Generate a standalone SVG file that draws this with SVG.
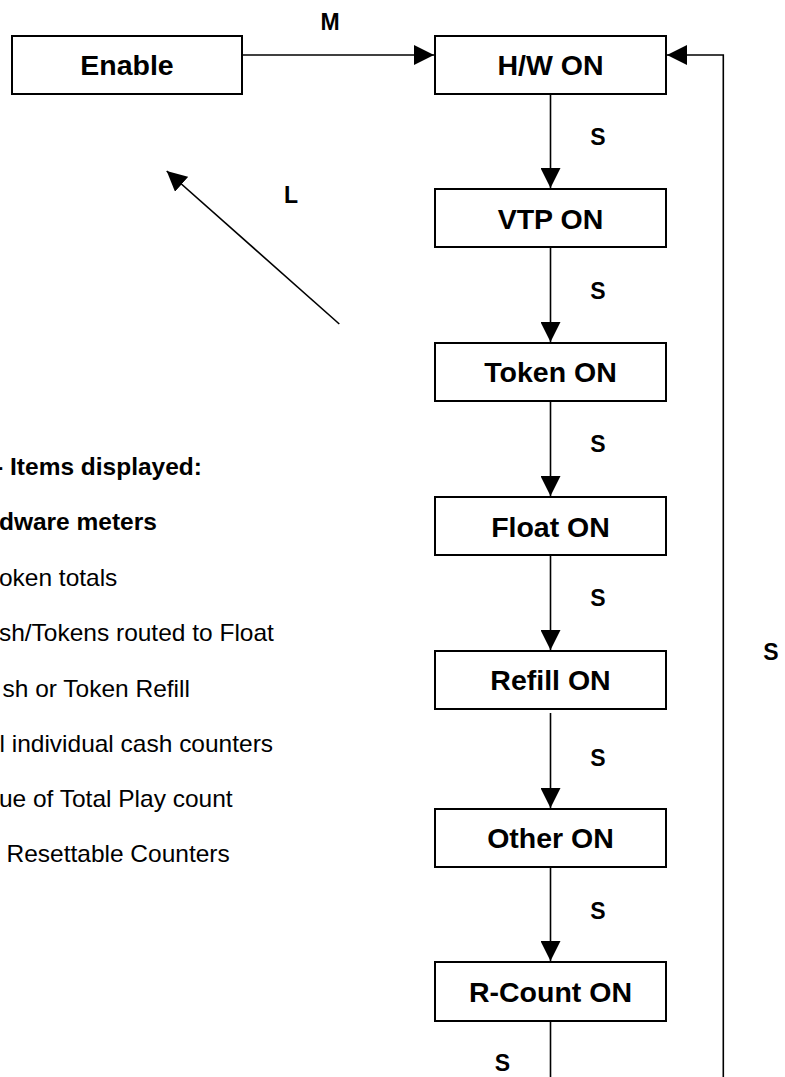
<svg xmlns="http://www.w3.org/2000/svg" width="785" height="1077" viewBox="0 0 785 1077">
<style>
  .box { fill: #fff; stroke: #000; stroke-width: 2; }
  .nt { font-family: "Liberation Sans", Arial, sans-serif; font-weight: bold; font-size: 28.5px; text-anchor: middle; fill: #000; }
  .lbl { font-family: "Liberation Sans", Arial, sans-serif; font-weight: bold; font-size: 23px; text-anchor: middle; fill: #000; }
  .txt { font-family: "Liberation Sans", Arial, sans-serif; font-size: 23px; fill: #000; }
  .txtb { font-family: "Liberation Sans", Arial, sans-serif; font-size: 23px; font-weight: bold; fill: #000; }
  .con { fill: none; stroke: #000; stroke-width: 1.6; }
</style>
<defs>
  <marker id="arr" markerUnits="userSpaceOnUse" markerWidth="20" markerHeight="20" refX="20" refY="10" orient="auto" viewBox="0 0 20 20">
    <path d="M0,0 L20,10 L0,20 Z" fill="#000"/>
  </marker>
</defs>
<rect width="785" height="1077" fill="#fff"/>

<g id="connectors">
  <line class="con" x1="243" y1="55" x2="434" y2="55" marker-end="url(#arr)"/>
  <line class="con" x1="550.5" y1="95" x2="550.5" y2="188" marker-end="url(#arr)"/>
  <line class="con" x1="550.5" y1="248" x2="550.5" y2="342" marker-end="url(#arr)"/>
  <line class="con" x1="550.5" y1="402" x2="550.5" y2="496" marker-end="url(#arr)"/>
  <line class="con" x1="550.5" y1="556" x2="550.5" y2="650" marker-end="url(#arr)"/>
  <line class="con" x1="550.5" y1="713" x2="550.5" y2="808" marker-end="url(#arr)"/>
  <line class="con" x1="550.5" y1="868" x2="550.5" y2="961" marker-end="url(#arr)"/>
  <line class="con" x1="550.5" y1="1022" x2="550.5" y2="1077"/>
  <path class="con" d="M723.3,1077 V55 H667" marker-end="url(#arr)"/>
  <line class="con" x1="339.3" y1="324" x2="166.7" y2="171" marker-end="url(#arr)"/>
</g>

<g id="labels">
  <text class="lbl" x="330" y="30">M</text>
  <text class="lbl" x="291" y="203">L</text>
  <text class="lbl" x="598" y="145">S</text>
  <text class="lbl" x="598" y="299">S</text>
  <text class="lbl" x="598" y="452">S</text>
  <text class="lbl" x="598" y="606">S</text>
  <text class="lbl" x="598" y="766">S</text>
  <text class="lbl" x="598" y="919">S</text>
  <text class="lbl" x="502.5" y="1071">S</text>
  <text class="lbl" x="771" y="660">S</text>
</g>

<g id="node-enable">
  <rect class="box" x="12" y="36" width="230" height="58"/>
  <text class="nt" x="127" y="75">Enable</text>
</g>
<g id="node-hw">
  <rect class="box" x="435" y="36" width="231" height="58"/>
  <text class="nt" x="550.5" y="75">H/W ON</text>
</g>
<g id="node-vtp">
  <rect class="box" x="435" y="189" width="231" height="58"/>
  <text class="nt" x="550.5" y="228.5">VTP ON</text>
</g>
<g id="node-token">
  <rect class="box" x="435" y="343" width="231" height="58"/>
  <text class="nt" x="550.5" y="382">Token ON</text>
</g>
<g id="node-float">
  <rect class="box" x="435" y="497" width="231" height="58"/>
  <text class="nt" x="550.5" y="536.5">Float ON</text>
</g>
<g id="node-refill">
  <rect class="box" x="435" y="651" width="231" height="58"/>
  <text class="nt" x="550.5" y="690">Refill ON</text>
</g>
<g id="node-other">
  <rect class="box" x="435" y="809" width="231" height="58"/>
  <text class="nt" x="550.5" y="848">Other ON</text>
</g>
<g id="node-rcount">
  <rect class="box" x="435" y="962" width="231" height="59"/>
  <text class="nt" x="550.5" y="1001.5">R-Count ON</text>
</g>

<g id="items-text" transform="scale(1.065,1)">
  <text class="txtb" x="-4.6" y="475">- Items displayed:</text>
  <text class="txtb" x="-1" y="530">dware meters</text>
  <text class="txt" x="-1" y="586">oken totals</text>
  <text class="txt" x="-1" y="641">sh/Tokens routed to Float</text>
  <text class="txt" x="2.4" y="697">sh or Token Refill</text>
  <text class="txt" x="-0.5" y="752">l individual cash counters</text>
  <text class="txt" x="-1" y="807">ue of Total Play count</text>
  <text class="txt" x="6.1" y="862">Resettable Counters</text>
</g>
</svg>
